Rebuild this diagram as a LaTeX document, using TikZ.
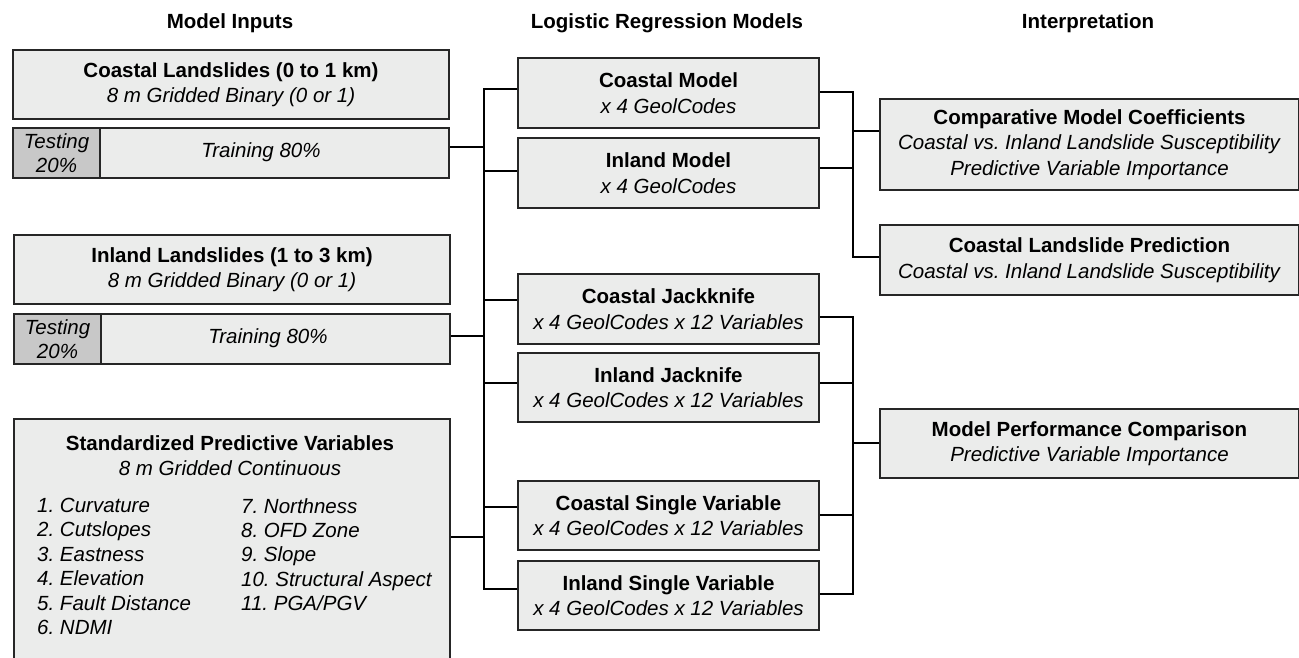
\documentclass[tikz,border=0pt]{standalone}
\usepackage{fontspec}
\setmainfont{Liberation Sans}
\definecolor{boxc}{HTML}{EBECEB}
\definecolor{testc}{HTML}{C8C8C8}
\definecolor{bordc}{HTML}{262626}
\frenchspacing
\begin{document}
\frenchspacing
\begin{tikzpicture}[x=1pt,y=-1pt,
  box/.style={draw=bordc,line width=2pt,fill=boxc,inner sep=0pt,anchor=north west,align=center,font=\fontsize{20.5}{25.5}\selectfont\frenchspacing},
  testbox/.style={box,fill=testc,font=\fontsize{20.5}{24.5}\selectfont\itshape},
  hdr/.style={inner sep=0pt,font=\fontsize{20.5}{25}\selectfont\bfseries},
  txt/.style={inner sep=0pt,align=center,font=\fontsize{20.5}{25}\selectfont\frenchspacing},
  lst/.style={inner sep=0pt,anchor=north west,align=left,font=\fontsize{20.5}{24.4}\selectfont\itshape\frenchspacing},
  conn/.style={draw=black,line width=2pt}]
\useasboundingbox (0,0) rectangle (1299,658);
\clip (0,0) rectangle (1299,658);

% headers
\node[hdr] (h1) at (230,23) {Model Inputs};
\node[hdr] (h2) at (667,23) {Logistic Regression Models};
\node[hdr] (h3) at (1088,23) {Interpretation};

% left column
\node[box,minimum width=436pt,minimum height=69pt] (cl) at (12,49)
  {\textbf{Coastal Landslides (0 to 1 km)}\\\textit{8 m Gridded Binary (0 or 1)}};
\node[box,minimum width=436pt,minimum height=50pt] (bar1) at (12,127) {};
\node[testbox,minimum width=87pt,minimum height=50pt] (te1) at (12,127) {Testing\\20\%};
\node[txt] (tr1) at (261,152) {\itshape Training 80\%};

\node[box,minimum width=436pt,minimum height=69pt] (il) at (13,234)
  {\textbf{Inland Landslides (1 to 3 km)}\\\textit{8 m Gridded Binary (0 or 1)}};
\node[box,minimum width=436pt,minimum height=50pt] (bar2) at (13,313) {};
\node[testbox,minimum width=87pt,minimum height=50pt] (te2) at (13,313) {Testing\\20\%};
\node[txt] (tr2) at (268,338) {\itshape Training 80\%};

\node[box,minimum width=436pt,minimum height=250pt] (spv) at (13,418) {};
\node[txt] (spvt) at (230,456)
  {\textbf{Standardized Predictive Variables}\\\textit{8 m Gridded Continuous}};
\node[lst] (l1) at (37,498) {1. Curvature\\2. Cutslopes\\3. Eastness\\4. Elevation\\5. Fault Distance\\6. NDMI};
\node[lst] (l2) at (241,498) {7. Northness\\8. OFD Zone\\9. Slope\\10. Structural Aspect\\11. PGA/PGV};

% middle column
\node[box,minimum width=301pt,minimum height=70pt] (cm) at (517,57)
  {\textbf{Coastal Model}\\\textit{x 4 GeolCodes}};
\node[box,minimum width=301pt,minimum height=70pt] (im) at (517,137)
  {\textbf{Inland Model}\\\textit{x 4 GeolCodes}};
\node[box,minimum width=301pt,minimum height=70pt] (cj) at (517,273)
  {\textbf{Coastal Jackknife}\\\textit{x 4 GeolCodes x 12 Variables}};
\node[box,minimum width=301pt,minimum height=69pt] (ij) at (517,352)
  {\textbf{Inland Jacknife}\\\textit{x 4 GeolCodes x 12 Variables}};
\node[box,minimum width=301pt,minimum height=69pt] (csv) at (517,480)
  {\textbf{Coastal Single Variable}\\\textit{x 4 GeolCodes x 12 Variables}};
\node[box,minimum width=301pt,minimum height=69pt] (isv) at (517,560)
  {\textbf{Inland Single Variable}\\\textit{x 4 GeolCodes x 12 Variables}};

% right column
\node[box,minimum width=419pt,minimum height=91pt] (cmc) at (879,98)
  {\textbf{Comparative Model Coefficients}\\\textit{Coastal vs. Inland Landslide Susceptibility}\\\textit{Predictive Variable Importance}};
\node[box,minimum width=419pt,minimum height=70pt] (clp) at (879,224)
  {\textbf{Coastal Landslide Prediction}\\\textit{Coastal vs. Inland Landslide Susceptibility}};
\node[box,minimum width=419pt,minimum height=69pt] (mpc) at (879,408)
  {\textbf{Model Performance Comparison}\\\textit{Predictive Variable Importance}};

% left trunk
\coordinate (jt) at (484,89);
\coordinate (jb) at (484,589);
\coordinate (j1) at (484,147);
\coordinate (j2) at (484,336);
\coordinate (j3) at (484,537);
\coordinate (j4) at (484,171);
\coordinate (j5) at (484,300);
\coordinate (j6) at (484,383);
\coordinate (j7) at (484,507);
\draw[conn] (cm.west |- jt) -- (jt) -- (jb) -- (isv.west |- jb);
\draw[conn] (bar1.east |- j1) -- (j1);
\draw[conn] (bar2.east |- j2) -- (j2);
\draw[conn] (spv.east |- j3) -- (j3);
\draw[conn] (j4) -- (im.west |- j4);
\draw[conn] (j5) -- (cj.west |- j5);
\draw[conn] (j6) -- (ij.west |- j6);
\draw[conn] (j7) -- (csv.west |- j7);

% right trunk, upper
\coordinate (r1) at (853,92);
\coordinate (r2) at (853,257);
\coordinate (r3) at (853,168);
\coordinate (r4) at (853,131);
\draw[conn] (cm.east |- r1) -- (r1) -- (r2) -- (clp.west |- r2);
\draw[conn] (im.east |- r3) -- (r3);
\draw[conn] (r4) -- (cmc.west |- r4);

% right trunk, lower
\coordinate (r5) at (853,317);
\coordinate (r6) at (853,594);
\coordinate (r7) at (853,383);
\coordinate (r8) at (853,515);
\coordinate (r9) at (853,443);
\draw[conn] (cj.east |- r5) -- (r5) -- (r6) -- (isv.east |- r6);
\draw[conn] (ij.east |- r7) -- (r7);
\draw[conn] (csv.east |- r8) -- (r8);
\draw[conn] (r9) -- (mpc.west |- r9);
\end{tikzpicture}
\end{document}
